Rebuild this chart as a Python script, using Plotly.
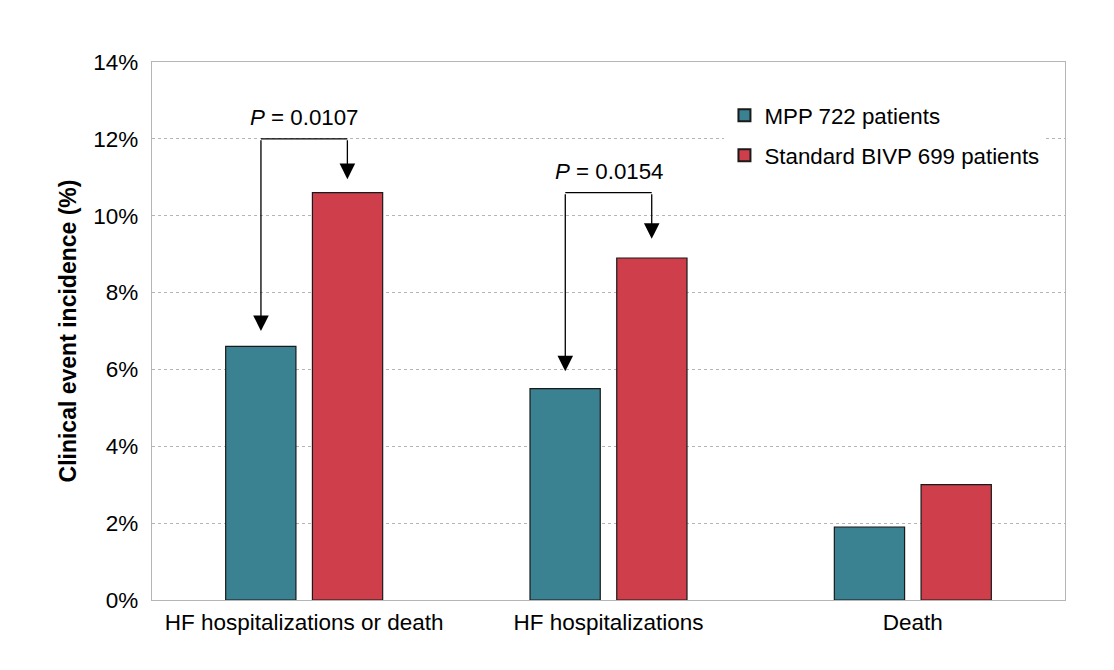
import plotly.graph_objects as go

categories = ["HF hospitalizations or death", "HF hospitalizations", "Death"]
mpp = [6.6, 5.5, 1.9]
bivp = [10.6, 8.9, 3.0]
names = ["MPP 722 patients", "Standard BIVP 699 patients"]
colors = ["#3a8191", "#cf3f4b"]

# p-value brackets: category index, bracket top, left tip, right tip, label
p_cat = [0, 1]
p_top = [12.0, 10.6]
p_left_tip = [7.0, 5.95]
p_right_tip = [10.95, 9.4]
p_text = ["<i>P</i> = 0.0107", "<i>P</i> = 0.0154"]

x = list(range(len(categories)))
off = 0.142

fig = go.Figure()
for vals, name, col in zip([mpp, bivp], names, colors):
    fig.add_trace(go.Bar(x=x, y=vals, name=name, marker_color=col,
                         legendgroup=name,
                         marker_line=dict(color="#1a1a1a", width=1.2)))

for c, top, lt, rt, txt in zip(p_cat, p_top, p_left_tip, p_right_tip, p_text):
    fig.add_shape(type="line", x0=c - off, x1=c + off, y0=top, y1=top,
                  line=dict(color="black", width=1.3))
    for xx, tip in [(c - off, lt), (c + off, rt)]:
        fig.add_annotation(x=xx, y=tip, ax=xx, ay=top, axref="x", ayref="y",
                           xref="x", yref="y", text="", showarrow=True,
                           arrowhead=2, arrowsize=2.4, arrowwidth=1.3,
                           arrowcolor="black")
    fig.add_annotation(x=c, y=top, text=txt, showarrow=False, yshift=21,
                       font=dict(size=22.3, color="black"))

fig.update_layout(
    width=1114, height=670,
    margin=dict(l=144, r=57, t=54, b=78),
    plot_bgcolor="white", paper_bgcolor="white",
    font=dict(family="Liberation Sans, Arial, sans-serif", size=22.5, color="black"),
    barmode="group", bargap=0.43, bargroupgap=0.19,
    legend=dict(x=0.627, y=0.94, xanchor="left", yanchor="top",
                font=dict(size=22.3), tracegroupgap=8, itemsizing="constant"),
)
fig.update_xaxes(range=[-0.5, 2.5], tickvals=x, ticktext=categories,
                 showline=True, linecolor="#b5b5b5", linewidth=1.2, mirror=True,
                 ticks="", showgrid=False, ticklabelstandoff=2)
fig.update_yaxes(range=[0, 14], dtick=2, ticksuffix="%",
                 title=dict(text="<b>Clinical event incidence (%)</b>", standoff=10,
                            font=dict(size=23)),
                 showline=True, linecolor="#b5b5b5", linewidth=1.2, mirror=True,
                 gridcolor="#b5b5b5", griddash="dot", gridwidth=1,
                 ticks="", ticklabelstandoff=8, zeroline=False)

fig.write_html("out.html")
